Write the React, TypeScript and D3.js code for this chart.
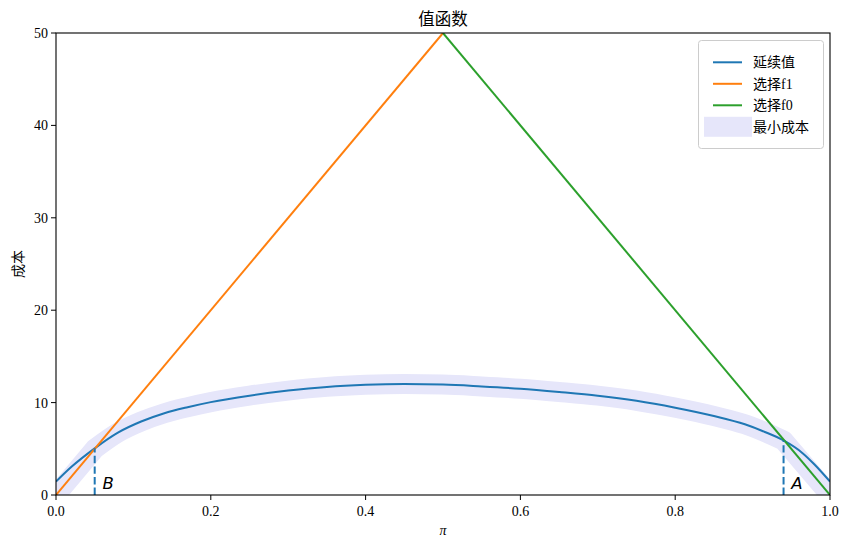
import React from "react";
import * as d3 from "d3";

// ---- data ----
const piValues = [0.0, 0.02, 0.05, 0.08, 0.11, 0.14, 0.17, 0.2, 0.25, 0.3, 0.35, 0.4, 0.45, 0.5, 0.55, 0.6, 0.65, 0.7, 0.75, 0.8, 0.85, 0.89, 0.915, 0.94, 0.965, 0.98, 1.0];
const continuationValues = [1.45, 3.05, 5.05, 6.75, 7.95, 8.85, 9.5, 10.05, 10.75, 11.3, 11.7, 11.92, 12.0, 11.95, 11.75, 11.5, 11.15, 10.75, 10.2, 9.45, 8.55, 7.65, 6.85, 5.9, 4.5, 3.3, 1.45];
const f1Pi = [0.0, 0.5];
const f1Cost = [0, 50];
const f0Pi = [0.5, 1.0];
const f0Cost = [50, 0];
const minPi = [0.0, 0.05, 0.08, 0.11, 0.14, 0.17, 0.2, 0.25, 0.3, 0.35, 0.4, 0.45, 0.5, 0.55, 0.6, 0.65, 0.7, 0.75, 0.8, 0.85, 0.89, 0.915, 0.94, 1.0];
const minCost = [0, 5.0, 6.75, 7.95, 8.85, 9.5, 10.05, 10.75, 11.3, 11.7, 11.92, 12.0, 11.95, 11.75, 11.5, 11.15, 10.75, 10.2, 9.45, 8.55, 7.65, 6.85, 5.9, 0];
const thresholdPi = [0.05, 0.94];
const thresholdCost = [5.05, 5.9];
const thresholdLabels = ["B", "A"];
const xTicks = [0, 0.2, 0.4, 0.6, 0.8, 1.0];
const yTicks = [0, 10, 20, 30, 40, 50];
const legendLabels = ["延续值", "选择f1", "选择f0", "最小成本"];

const W = 850, H = 548;
const M = { left: 56, right: 830, top: 33, bottom: 495 };
const BLUE = "#1f77b4", ORANGE = "#ff7f0e", GREEN = "#2ca02c", LAV = "#e6e6fa";
const SERIF = "'Liberation Serif', 'DejaVu Serif', 'Noto Sans CJK SC', serif";

export default function App() {
  const x = d3.scaleLinear().domain([0, 1]).range([M.left, M.right]);
  const y = d3.scaleLinear().domain([0, 50]).range([M.bottom, M.top]);
  const line = d3.line<[number, number]>().x(d => x(d[0])).y(d => y(d[1]));
  const smooth = d3.line<[number, number]>().x(d => x(d[0])).y(d => y(d[1])).curve(d3.curveMonotoneX);
  const zip = (a: number[], b: number[]) => a.map((v, i) => [v, b[i]] as [number, number]);

  // min-cost band: straight end pieces, smooth middle
  const minPts = zip(minPi, minCost);
  const midPts = minPts.slice(1, minPts.length - 1);
  const first = minPts[0], last = minPts[minPts.length - 1];
  const midPath = smooth(midPts) || "";
  const bandPath = `M${x(first[0])},${y(first[1])}L` + midPath.slice(1) + `L${x(last[0])},${y(last[1])}`;

  const legendColors = [BLUE, ORANGE, GREEN];
  return (
    <svg width={W} height={H} style={{ position: "absolute", left: 0, top: 0, background: "#fff" }} fontFamily={SERIF}>
      <defs>
        <clipPath id="plot">
          <rect x={M.left} y={M.top} width={M.right - M.left} height={M.bottom - M.top} />
        </clipPath>
      </defs>
      <rect width={W} height={H} fill="#fff" />
      <g clipPath="url(#plot)">
        <path d={bandPath} fill="none" stroke={LAV} strokeWidth={20} strokeLinejoin="round" strokeLinecap="square" />
        <path d={smooth(zip(piValues, continuationValues)) || ""} fill="none" stroke={BLUE} strokeWidth={2} strokeLinejoin="round" />
        <path d={line(zip(f1Pi, f1Cost)) || ""} fill="none" stroke={ORANGE} strokeWidth={2} />
        <path d={line(zip(f0Pi, f0Cost)) || ""} fill="none" stroke={GREEN} strokeWidth={2} />
        {thresholdPi.map((p, i) => (
          <line key={i} x1={x(p)} x2={x(p)} y1={y(0)} y2={y(thresholdCost[i])} stroke={BLUE} strokeWidth={2} strokeDasharray="7.4,3.2" />
        ))}
      </g>
      {thresholdPi.map((p, i) => (
        <text key={i} x={x(p + 0.01)} y={y(0.6)} fontFamily="'DejaVu Sans', sans-serif" fontStyle="italic" fontSize={16.5} fill="#000">
          {thresholdLabels[i]}
        </text>
      ))}
      {/* axes frame */}
      <rect x={M.left} y={M.top} width={M.right - M.left} height={M.bottom - M.top} fill="none" stroke="#000" strokeWidth={1.1} />
      {xTicks.map(t => (
        <g key={t}>
          <line x1={x(t)} x2={x(t)} y1={M.bottom} y2={M.bottom + 5} stroke="#000" strokeWidth={1} />
          <text x={x(t)} y={M.bottom + 21} textAnchor="middle" fontSize={14} fill="#000">{t.toFixed(1)}</text>
        </g>
      ))}
      {yTicks.map(t => (
        <g key={t}>
          <line x1={M.left - 5} x2={M.left} y1={y(t)} y2={y(t)} stroke="#000" strokeWidth={1} />
          <text x={M.left - 8} y={y(t) + 5} textAnchor="end" fontSize={14} fill="#000">{t}</text>
        </g>
      ))}
      <text x={(M.left + M.right) / 2} y={25} textAnchor="middle" fontSize={16.5} fill="#000">值函数</text>
      <text x={(M.left + M.right) / 2} y={535} textAnchor="middle" fontSize={14} fontStyle="italic" fill="#000">π</text>
      <text transform={`translate(23, ${(M.top + M.bottom) / 2}) rotate(-90)`} textAnchor="middle" fontSize={14} fill="#000">成本</text>
      {/* legend */}
      <rect x={698.5} y={40.5} width={125} height={108} rx={3} fill="#fff" fillOpacity={0.8} stroke="#cccccc" strokeWidth={1} />
      {legendLabels.map((lab, i) => {
        const cy = 62.3 + i * 21.5;
        return (
          <g key={lab}>
            {i < 3 ? (
              <line x1={713} x2={742} y1={cy} y2={cy} stroke={legendColors[i]} strokeWidth={2} />
            ) : (
              <rect x={704} y={cy - 10} width={48} height={20} fill={LAV} />
            )}
            <text x={753} y={cy + 5} fontSize={14} fill="#000">{lab}</text>
          </g>
        );
      })}
    </svg>
  );
}
